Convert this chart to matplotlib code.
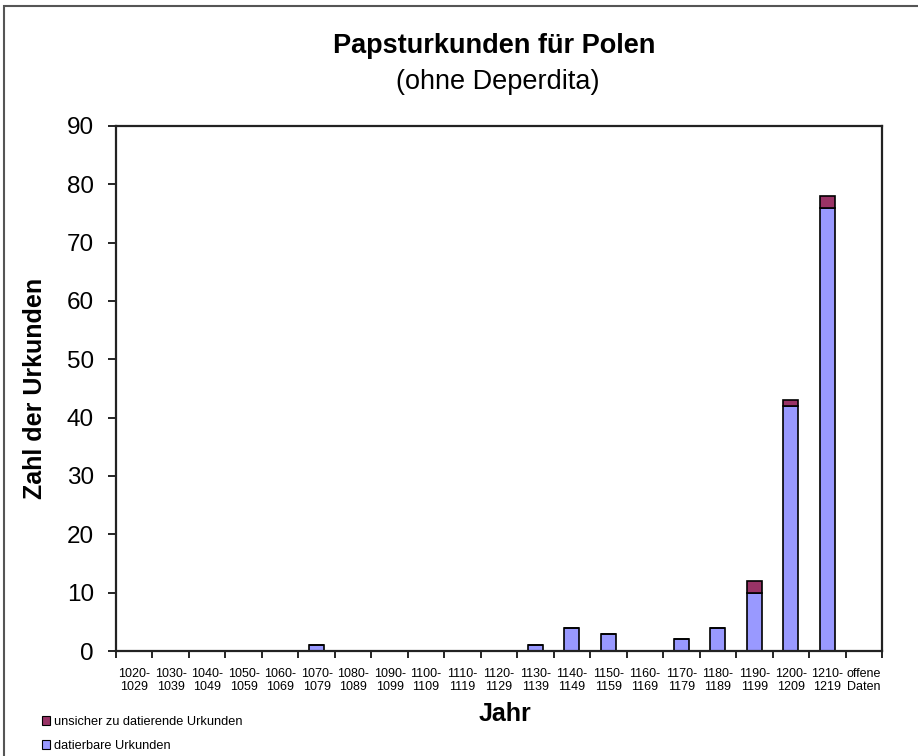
import matplotlib
matplotlib.use("Agg")
import matplotlib.pyplot as plt
from matplotlib.patches import Rectangle, Patch
import numpy as np

plt.rcParams['font.family'] = ['Liberation Sans', 'DejaVu Sans']

categories = ["1020-\n1029", "1030-\n1039", "1040-\n1049", "1050-\n1059", "1060-\n1069",
              "1070-\n1079", "1080-\n1089", "1090-\n1099", "1100-\n1109", "1110-\n1119",
              "1120-\n1129", "1130-\n1139", "1140-\n1149", "1150-\n1159", "1160-\n1169",
              "1170-\n1179", "1180-\n1189", "1190-\n1199", "1200-\n1209", "1210-\n1219",
              "offene\nDaten"]
datierbar = [0, 0, 0, 0, 0, 1, 0, 0, 0, 0, 0, 1, 4, 3, 0, 2, 4, 10, 42, 76, 0]
unsicher = [0, 0, 0, 0, 0, 0, 0, 0, 0, 0, 0, 0, 0, 0, 0, 0, 0, 2, 1, 2, 0]
yticks = [0, 10, 20, 30, 40, 50, 60, 70, 80, 90]

W, H = 918, 756
fig = plt.figure(figsize=(W / 100, H / 100), dpi=100)
fig.patch.set_facecolor('white')

# figure border
fig.add_artist(Rectangle((4 / W, -0.1), 1.2, 1 - 6 / H + 0.1, transform=fig.transFigure,
                         fill=False, edgecolor='#555555', linewidth=1.5))

ax = fig.add_axes([116 / W, (H - 651) / H, (882 - 116) / W, (651 - 126) / H])
n = len(categories)
x = np.arange(n)
blue = '#9999FF'
red = '#993366'
ax.bar(x, datierbar, width=0.41, color=blue, edgecolor='black', linewidth=1.2,
       label='datierbare Urkunden', zorder=2)
ax.bar(x, unsicher, width=0.41, bottom=datierbar, color=red, edgecolor='black',
       linewidth=1.2, label='unsicher zu datierende Urkunden', zorder=2)

ax.set_xlim(-0.5, n - 0.5)
ax.set_ylim(0, 90)
ax.set_yticks(yticks)
ax.set_yticklabels([str(v) for v in yticks], fontsize=17.5)
ax.tick_params(axis='y', direction='out', length=6, width=1.2, pad=10)

ax.set_xticks(x)
ax.set_xticklabels(categories, fontsize=9, linespacing=1.15)
ax.set_xticks(np.arange(-0.5, n, 1.0), minor=True)
ax.tick_params(axis='x', which='major', length=0, pad=12)
ax.tick_params(axis='x', which='minor', direction='out', length=5, width=1.2)

for s in ax.spines.values():
    s.set_linewidth(1.6)
    s.set_color('#222222')

ax.set_ylabel('Zahl der Urkunden', fontsize=18, fontweight='bold', labelpad=14)
fig.text(505 / W, 1 - 714 / H, 'Jahr', ha='center', va='center',
         fontsize=18, fontweight='bold')

fig.text(494 / W, 1 - 46 / H, 'Papsturkunden für Polen', ha='center', va='center',
         fontsize=19.5, fontweight='bold')
fig.text(498 / W, 1 - 82 / H, '(ohne Deperdita)', ha='center', va='center', fontsize=19.5)

handles = [Patch(facecolor=red, edgecolor='black', linewidth=0.8, label='unsicher zu datierende Urkunden'),
           Patch(facecolor=blue, edgecolor='black', linewidth=0.8, label='datierbare Urkunden')]
fig.legend(handles=handles, loc='upper left', bbox_to_anchor=(42 / W, 1 - 716 / H),
           frameon=False, fontsize=9.2, handlelength=0.65, handleheight=0.65,
           handletextpad=0.25, labelspacing=0.95, borderpad=0, borderaxespad=0)

fig.savefig('out.png', dpi=100, facecolor='white')
